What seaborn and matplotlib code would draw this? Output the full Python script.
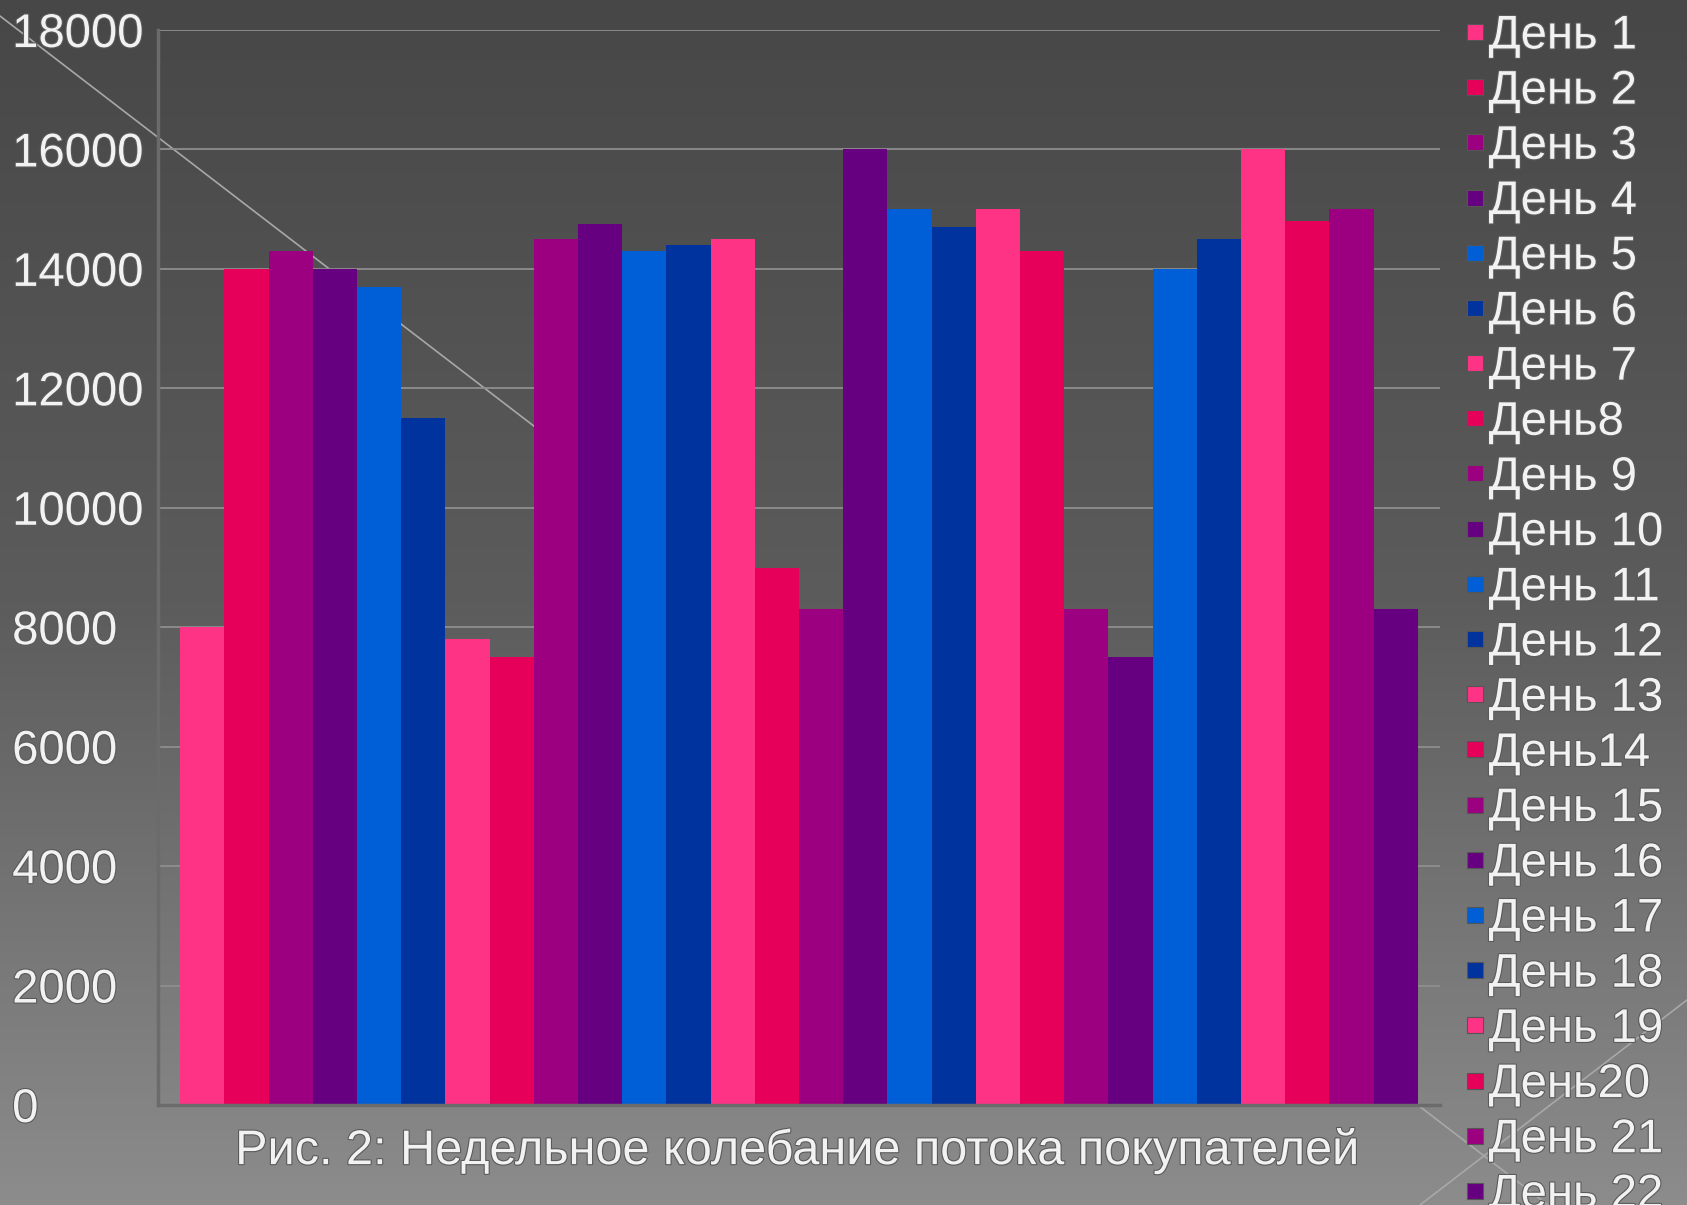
import numpy as np
import pandas as pd
import matplotlib
matplotlib.use("Agg")
import matplotlib.pyplot as plt
import matplotlib.patheffects as pe
from matplotlib.colors import LinearSegmentedColormap
from matplotlib.lines import Line2D
import seaborn as sns

# ---- data ----
days = ["День 1", "День 2", "День 3", "День 4", "День 5", "День 6", "День 7",
        "День8", "День 9", "День 10", "День 11", "День 12", "День 13", "День14",
        "День 15", "День 16", "День 17", "День 18", "День 19", "День20",
        "День 21", "День 22", "День 23", "День 24", "День 25", "День 26",
        "День 27", "День 28"]
visitors = [8000, 14000, 14300, 14000, 13700, 11500, 7800,
            7500, 14500, 14750, 14300, 14400, 14500, 9000,
            8300, 16000, 15000, 14700, 15000, 14300,
            8300, 7500, 14000, 14500, 16000, 14800,
            15000, 8300]
y_ticks = [0, 2000, 4000, 6000, 8000, 10000, 12000, 14000, 16000, 18000]
caption = "Рис. 2: Недельное колебание потока покупателей"
n_legend_visible = 22  # legend runs off the bottom of the slide after day 22

# ---- style ----
base_colors = ["#ff3385", "#e6005a", "#9c0080", "#660080", "#005fd6", "#00339e"]
palette = {d: base_colors[i % len(base_colors)] for i, d in enumerate(days)}

sns.set_theme(style="white")
plt.rcParams["font.family"] = ["Liberation Sans", "DejaVu Sans"]

W, H = 1687, 1205
fig = plt.figure(figsize=(W / 100, H / 100), dpi=100)

# background gradient + decorative lines
bg = fig.add_axes([0, 0, 1, 1], zorder=0)
grad = np.linspace(0, 1, 256).reshape(-1, 1)
cmap = LinearSegmentedColormap.from_list("bg", ["#474747", "#5c5c5c", "#8c8c8c"])
bg.imshow(grad, extent=[0, W, H, 0], aspect="auto", cmap=cmap)
bg.plot([0, 1548], [16, 1205], color="#a8a8a8", lw=1.2)
bg.plot([1420, 1687], [1205, 1000], color="#a8a8a8", lw=1.2)
bg.set_xlim(0, W)
bg.set_ylim(H, 0)
bg.axis("off")

ax = fig.add_axes([158 / W, 1 - 1105 / H, (1440 - 158) / W, (1105 - 30) / H], zorder=1)
ax.patch.set_alpha(0)

df = pd.DataFrame({"day": days, "visitors": visitors})
sns.barplot(data=df, x="day", y="visitors", hue="day", palette=palette,
            dodge=False, width=1.0, saturation=1, legend=False,
            linewidth=0, ax=ax)

ax.set_xlim(-1, len(days))
ax.set_ylim(0, 18000)
ax.set_yticks(y_ticks)
ax.set_yticklabels([str(v) for v in y_ticks])
ax.set_xticks([-1, len(days)])
ax.set_xticklabels(["", ""])
ax.set_xlabel("")
ax.set_ylabel("")

for s in ["top", "right"]:
    ax.spines[s].set_visible(False)
for s in ["left", "bottom"]:
    ax.spines[s].set_color("#6b6b6b")
    ax.spines[s].set_linewidth(2.5)

ax.set_axisbelow(True)
ax.yaxis.grid(True, color="#8e8e8e", lw=1.3)
ax.xaxis.grid(False)

text_fx = [pe.withStroke(linewidth=1.6, foreground="#5a5a5a")]
ax.tick_params(axis="y", direction="out", length=7, width=1.5, color="#8e8e8e",
               pad=98, labelsize=34, labelcolor="#f2f2f2")
ax.tick_params(axis="x", direction="out", length=7, width=1.5, color="#8e8e8e")
for lab in ax.get_yticklabels():
    lab.set_horizontalalignment("left")
    lab.set_path_effects(text_fx)

legend_days = days[:n_legend_visible]
handles = [Line2D([], [], marker="s", linestyle="none", markersize=12,
                  markerfacecolor=palette[d], markeredgecolor="#555555",
                  markeredgewidth=0.8) for d in legend_days]
leg = fig.legend(handles, legend_days, loc="upper left", bbox_to_anchor=(0.869, 0.988),
                 frameon=False, fontsize=34, labelspacing=0.237, handlelength=0.4,
                 handletextpad=0.08, borderpad=0.0, borderaxespad=0.0)
for t in leg.get_texts():
    t.set_color("#f2f2f2")
    t.set_path_effects(text_fx)

fig.text(798 / W, 1 - 1151 / H, caption, ha="center", va="center",
         fontsize=35, color="#f2f2f2", path_effects=text_fx)

fig.savefig("out.png", dpi=100)
